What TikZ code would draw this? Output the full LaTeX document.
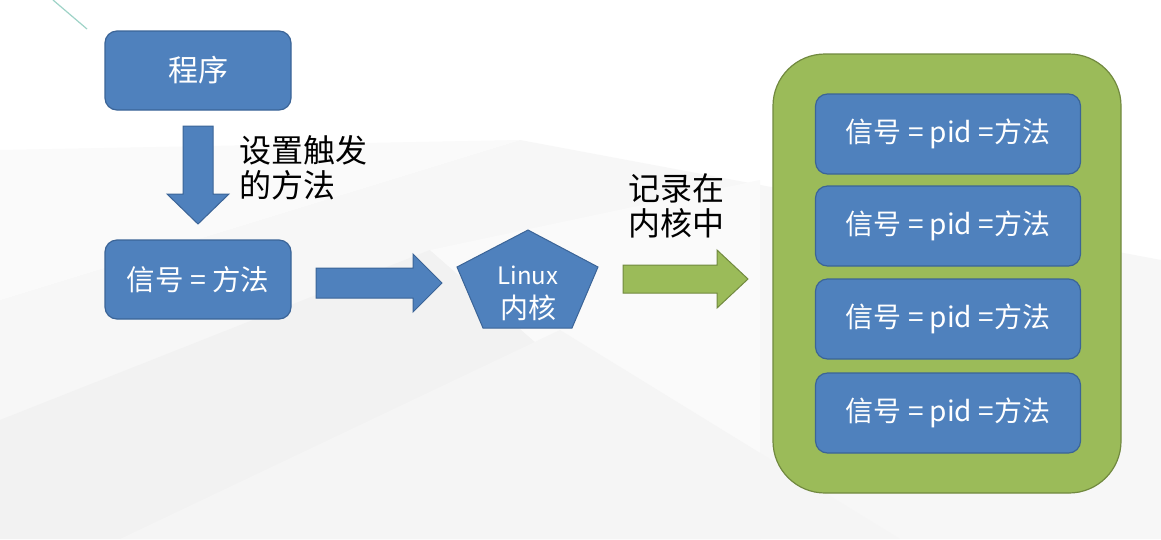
\documentclass[tikz,border=0pt]{standalone}
\usepackage{fontspec}
\setmainfont{Noto Sans CJK SC}
\definecolor{bfill}{HTML}{4F81BD}
\definecolor{bline}{HTML}{3B6497}
\definecolor{gfill}{HTML}{9BBB59}
\definecolor{gline}{HTML}{71893F}
\definecolor{teal}{HTML}{9ED3C7}
\tikzset{
  bluebox/.style={draw=bline, fill=bfill, line width=1.2pt, rounded corners=12pt, text=white, inner sep=0pt},
  blockarrow/.style={draw=bline, fill=bfill, line width=1pt},
  greenarrow/.style={draw=gline, fill=gfill, line width=1pt},
  lbl/.style={text=black, align=left, font=\fontsize{32}{37}\selectfont, inner sep=0pt},
}
\begin{document}
\begin{tikzpicture}[x=1pt,y=-1pt]
\useasboundingbox (0,0) rectangle (1161,539);
% background
\fill[white] (0,0) rectangle (1161,539);
\fill[black!3] (0,300) -- (520,140) -- (1161,260) -- (1161,539) -- (0,539) -- cycle;
\fill[black!5] (0,420) -- (430,250) -- (760,539) -- (0,539) -- cycle;
\fill[black!2] (430,250) -- (760,180) -- (760,539) -- cycle;
\fill[black!4] (120,539) -- (560,330) -- (900,539) -- cycle;
\fill[black!2] (0,150) -- (520,140) -- (0,300) -- cycle;
\draw[teal, line width=1.2pt] (53,0) -- (87,29);
% nodes
\node[bluebox, minimum width=186pt, minimum height=79pt, font=\fontsize{30}{34}\selectfont] (prog) at (198,70.5) {程序};
\node[bluebox, minimum width=186pt, minimum height=79pt, font=\fontsize{28.5}{34}\selectfont] (sig) at (198,279.5) {信号 = 方法};
\draw[blockarrow] (528,230) -- (598,267) -- (572,328) -- (483,328) -- (457,267) -- cycle;
\node[text=white, font=\fontsize{24}{28}\selectfont] (kl) at (528,275) {Linux};
\node[text=white, font=\fontsize{28}{32}\selectfont] (kc) at (528,308) {内核};
% down arrow
\draw[blockarrow] (183,126) -- (213,126) -- (213,194) -- (229,194) -- (198,224) -- (167,194) -- (183,194) -- cycle;
\node[lbl, anchor=west] (l1) at (239,168) {设置触发\\[-2pt]的方法};
% right arrow blue
\draw[blockarrow] (316,268) -- (413,268) -- (413,254) -- (442,283) -- (413,312) -- (413,298) -- (316,298) -- cycle;
% green arrow
\draw[greenarrow] (623,265) -- (717,265) -- (717,250) -- (748,279) -- (717,308) -- (717,293) -- (623,293) -- cycle;
\node[lbl, anchor=west] (l2) at (628,206) {记录在\\[-2pt]内核中};
% container
\node[draw=gline, fill=gfill, line width=1.2pt, rounded corners=52pt, minimum width=348pt, minimum height=439pt] (cont) at (947,273.5) {};
\foreach \y/\n in {134/a,226/b,319/c,413/d}{
  \node[bluebox, minimum width=265pt, minimum height=80pt, font=\fontsize{28}{33}\selectfont] (\n) at (948,\y) {信号 = pid =方法};
}
\end{tikzpicture}
\end{document}
